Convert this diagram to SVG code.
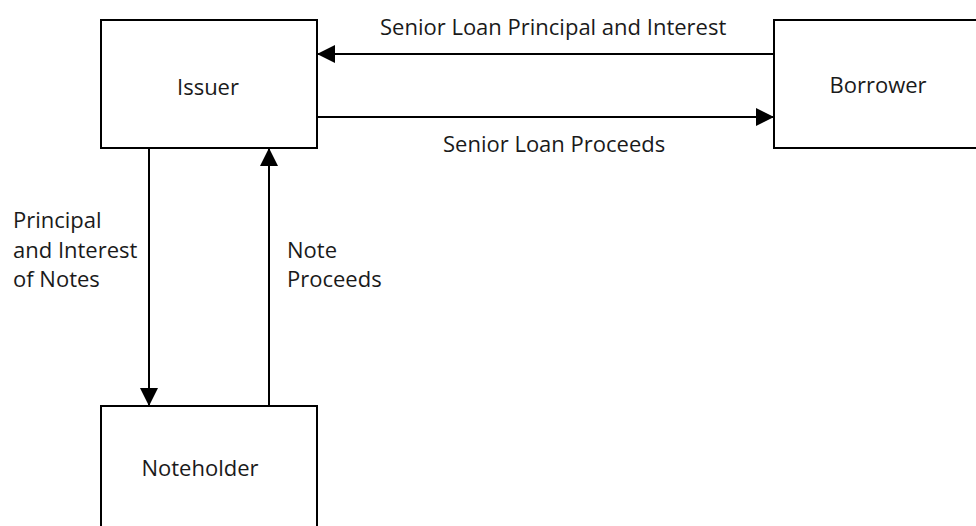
<svg xmlns="http://www.w3.org/2000/svg" width="976" height="526" viewBox="0 0 976 526">
<style>
.box{fill:#fff;stroke:#000;stroke-width:2}
.ln{fill:none;stroke:#000;stroke-width:2}
text{font-family:"Open Sans","Noto Sans",sans-serif;font-size:22px;fill:#1a1a1a}
.c{text-anchor:middle}
</style>
<defs>
<marker id="ah" markerUnits="userSpaceOnUse" markerWidth="18" markerHeight="18" viewBox="0 0 18 18" refX="17" refY="9" orient="auto">
<path d="M0,0 L18,9 L0,18 Z" fill="#000"/>
</marker>
</defs>
<rect width="976" height="526" fill="#fff"/>
<g id="issuer">
<rect class="box" x="101" y="20" width="216" height="128"/>
<text class="c" x="208" y="95">Issuer</text>
</g>
<g id="borrower">
<rect class="box" x="774" y="20" width="210" height="128"/>
<text class="c" x="878" y="93">Borrower</text>
</g>
<g id="noteholder">
<rect class="box" x="101" y="406" width="216" height="130"/>
<text class="c" x="200" y="476">Noteholder</text>
</g>
<g id="connectors">
<line class="ln" x1="774" y1="54" x2="318" y2="54" marker-end="url(#ah)"/>
<line class="ln" x1="317" y1="117" x2="773" y2="117" marker-end="url(#ah)"/>
<line class="ln" x1="149" y1="148" x2="149" y2="405" marker-end="url(#ah)"/>
<line class="ln" x1="269" y1="406" x2="269" y2="149" marker-end="url(#ah)"/>
<text x="380" y="35">Senior Loan Principal and Interest</text>
<text x="443" y="152">Senior Loan Proceeds</text>
<text x="13" y="228">Principal</text>
<text x="13" y="258">and Interest</text>
<text x="13" y="287">of Notes</text>
<text x="287" y="258">Note</text>
<text x="287" y="287">Proceeds</text>
</g>
</svg>
